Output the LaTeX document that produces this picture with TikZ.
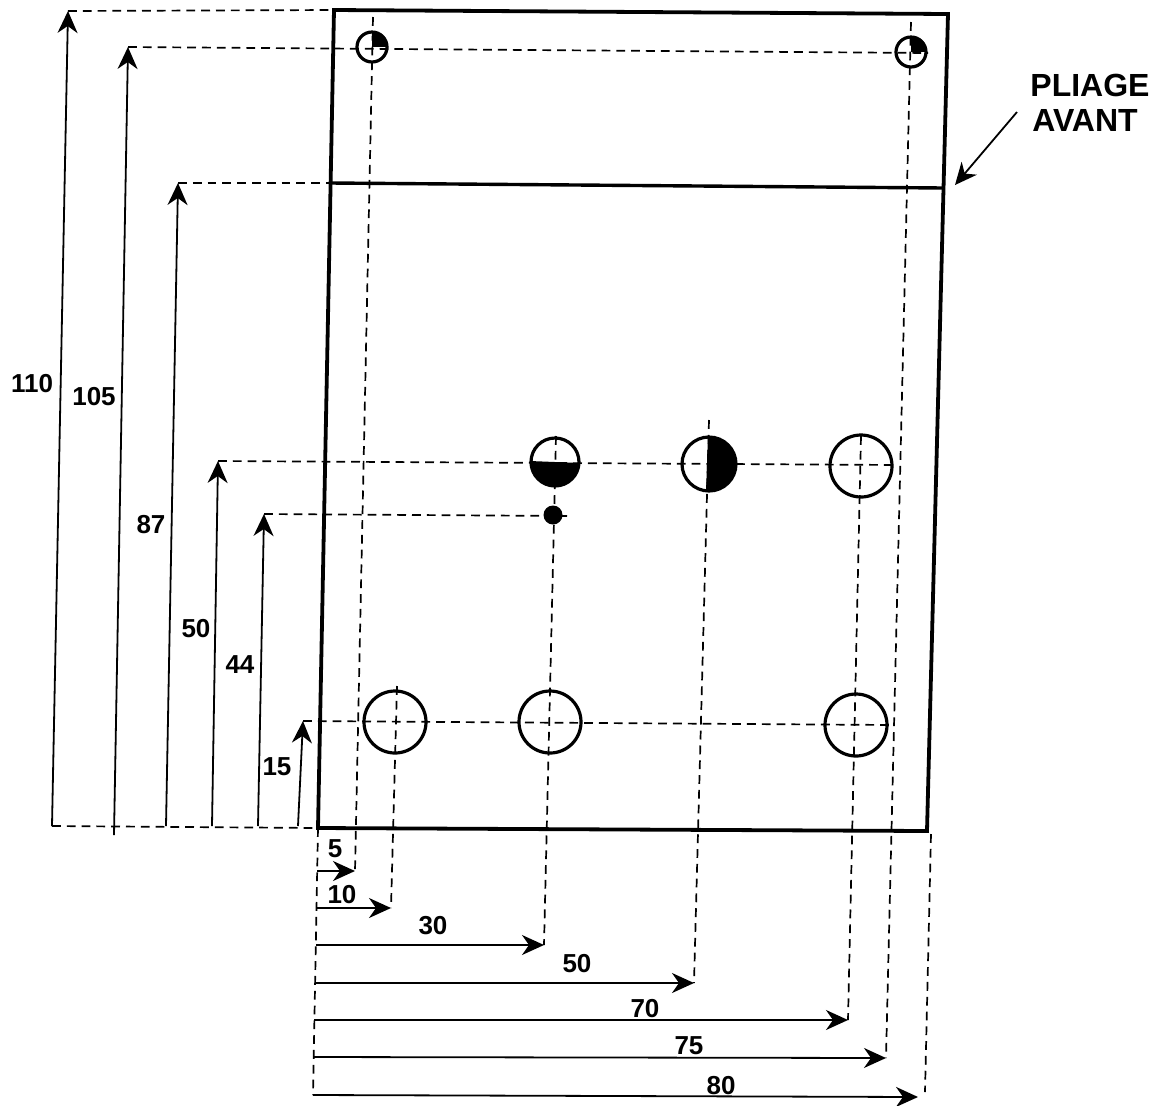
\documentclass[tikz,border=0pt]{standalone}
\usepackage{fontspec}
\setmainfont{Liberation Sans}
\usetikzlibrary{arrows.meta}
\tikzset{
  plate/.style={line width=1.9pt,line join=miter,draw=black},
  foldline/.style={line width=1.7pt,draw=black},
  dimdash/.style={draw=black,line width=0.85pt,dash pattern=on 4.4pt off 3pt},
  dimarrow/.style={draw=black,line width=0.9pt,-{Stealth[length=11pt,width=10pt,inset=3.5pt]}},
  num/.style={font=\bfseries\fontsize{13}{15}\selectfont,inner sep=0pt},
  big/.style={font=\bfseries\fontsize{16}{18}\selectfont,inner sep=0pt},
  hole/.style={circle,draw=black,line width=1.6pt,inner sep=0pt,outer sep=0pt},
  dot/.style={circle,fill=black,inner sep=0pt,outer sep=0pt}
}
\begin{document}
\begin{tikzpicture}[x=0.5pt,y=-0.5pt]
\useasboundingbox (0,0) rectangle (1169,1105);
% plate corners
\coordinate (tl) at (334,10);
\coordinate (tr) at (948,14);
\coordinate (br) at (927,831);
\coordinate (bl) at (318,828);
\coordinate (fl) at (331,183);
\coordinate (fr) at (944,188);
\draw[plate] (tl) -- (tr) -- (br) -- (bl) -- cycle;
\draw[foldline] (fl) -- (fr);
% dimension anchors
\coordinate (a110b) at (52,826);  \coordinate (a110t) at (68,11);
\coordinate (a105b) at (114,835); \coordinate (a105t) at (128,47);
\coordinate (a87b) at (166,826);  \coordinate (a87t) at (178,183);
\coordinate (a50b) at (212,826);  \coordinate (a50t) at (218,461);
\coordinate (a44b) at (258,826);  \coordinate (a44t) at (264,514);
\coordinate (a15b) at (298,826);  \coordinate (a15t) at (303,721);
\coordinate (b5l) at (317,871);   \coordinate (b5r) at (355,871);
\coordinate (b10l) at (317,908);  \coordinate (b10r) at (391,908);
\coordinate (b30l) at (316,945);  \coordinate (b30r) at (544,945);
\coordinate (b50l) at (315,983);  \coordinate (b50r) at (694,983);
\coordinate (b70l) at (314,1020); \coordinate (b70r) at (848,1020);
\coordinate (b75l) at (313,1057); \coordinate (b75r) at (886,1058);
\coordinate (b80l) at (313,1095); \coordinate (b80r) at (918,1097);
% dashed horizontals
\draw[dimdash] (a110t) -- (tl);
\draw[dimdash] (a105t) -- (928,53);
\draw[dimdash] (a87t) -- (fl);
\draw[dimdash] (a50t) -- (898,465);
\draw[dimdash] (a44t) -- (567,516);
\draw[dimdash] (a15t) -- (893,725);
\draw[dimdash] (a110b) -- (bl);
% dashed verticals
\coordinate (v5t) at (373,17);
\coordinate (v10t) at (397,686);
\coordinate (v30t) at (556,436);
\coordinate (v50t) at (709,420);
\coordinate (v70t) at (861,436);
\coordinate (v75t) at (911,22);
\coordinate (v80t) at (931,834);
\draw[dimdash] (v5t) -- (b5r);
\draw[dimdash] (v10t) -- (b10r);
\draw[dimdash] (v30t) -- (b30r);
\draw[dimdash] (v50t) -- (b50r);
\draw[dimdash] (v70t) -- (b70r);
\draw[dimdash] (v75t) -- (b75r);
\draw[dimdash] (v80t) -- (925,1092);
\draw[dimdash] (bl) -- (b80l);
% part fills
\begin{scope}
  \clip (372,47) circle [radius=15];
  \fill (372,32) rectangle (388,47);
\end{scope}
\begin{scope}
  \clip (911,52) circle [radius=15];
  \fill (911,37) rectangle (927,52);
\end{scope}
\begin{scope}
  \clip (555,462) circle [radius=24];
  \fill (530,461) -- (580,463) -- (580,488) -- (530,488) -- cycle;
\end{scope}
\begin{scope}
  \clip (709,464) circle [radius=27];
  \fill (708,436) -- (740,436) -- (740,492) -- (706,492) -- cycle;
\end{scope}
% holes
\node[hole,minimum size=15pt] (h1) at (372,47) {};
\node[hole,minimum size=15pt] (h2) at (911,52) {};
\node[hole,minimum size=24pt] (h3) at (555,462) {};
\node[hole,minimum size=27pt] (h4) at (709,464) {};
\node[hole,minimum size=31pt] (h5) at (861,466) {};
\node[dot,minimum size=9.5pt] (h6) at (553,515) {};
\node[hole,minimum size=31pt] (h7) at (395,722) {};
\node[hole,minimum size=31pt] (h8) at (550,722) {};
\node[hole,minimum size=31pt] (h9) at (856,725) {};
% vertical arrows
\draw[dimarrow] (a110b) -- (a110t);
\draw[dimarrow] (a105b) -- (a105t);
\draw[dimarrow] (a87b) -- (a87t);
\draw[dimarrow] (a50b) -- (a50t);
\draw[dimarrow] (a44b) -- (a44t);
\draw[dimarrow] (a15b) -- (a15t);
% horizontal arrows
\draw[dimarrow] (b5l) -- (b5r);
\draw[dimarrow] (b10l) -- (b10r);
\draw[dimarrow] (b30l) -- (b30r);
\draw[dimarrow] (b50l) -- (b50r);
\draw[dimarrow] (b70l) -- (b70r);
\draw[dimarrow] (b75l) -- (b75r);
\draw[dimarrow] (b80l) -- (b80r);
% labels
\node[num] (l110) at (32,384) {110};
\node[num] (l105) at (94,397) {105};
\node[num] (l87) at (151,525) {87};
\node[num] (l50) at (196,629) {50};
\node[num] (l44) at (240,665) {44};
\node[num] (l15) at (277,767) {15};
\node[num] (m5) at (335,849) {5};
\node[num] (m10) at (342,895) {10};
\node[num] (m30) at (433,926) {30};
\node[num] (m50) at (577,964) {50};
\node[num] (m70) at (645,1009) {70};
\node[num] (m75) at (689,1046) {75};
\node[num] (m80) at (721,1086) {80};
\node[big] (pliage) at (1090,85) {PLIAGE};
\node[big] (avant) at (1085,120) {AVANT};
\coordinate (foldtip) at (955,185);
\coordinate (foldtail) at (1017,112);
\draw[dimarrow] (foldtail) -- (foldtip);
\end{tikzpicture}
\end{document}
